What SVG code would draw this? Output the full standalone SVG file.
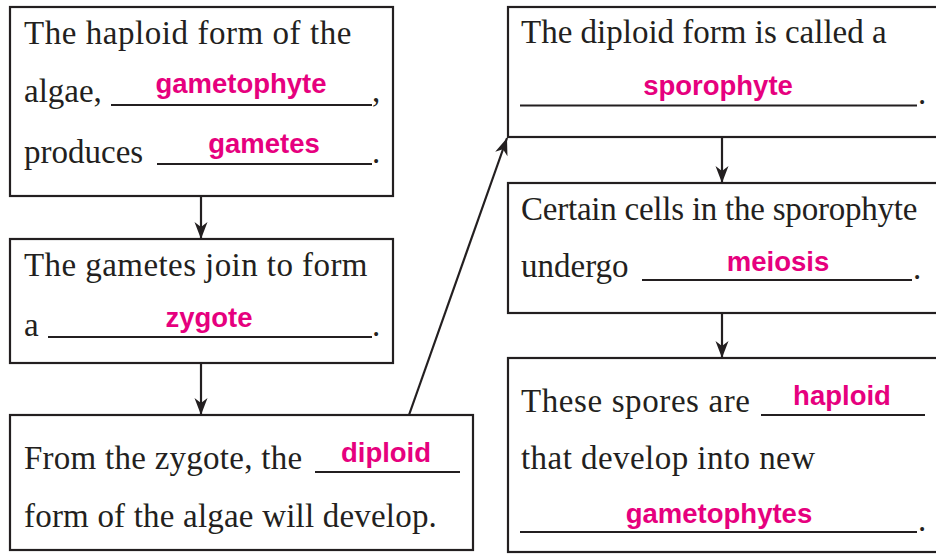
<svg xmlns="http://www.w3.org/2000/svg" width="936" height="554" viewBox="0 0 936 554">
<style>
.box{fill:#fff;stroke:#231f20;stroke-width:2.2}
.t{font-family:"Liberation Serif","Times New Roman",serif;font-size:33px;fill:#231f20}
.a{font-family:"Liberation Sans",Arial,sans-serif;font-weight:bold;font-size:27.5px;fill:#e6007e;text-anchor:middle}
.u{stroke:#231f20;stroke-width:2}
.c{stroke:#231f20;stroke-width:2.2;fill:none;marker-end:url(#ah)}
</style>
<defs>
<marker id="ah" viewBox="-18 -8 19 16" refX="0" refY="0" markerWidth="19" markerHeight="16" markerUnits="userSpaceOnUse" orient="auto">
<path d="M0,0 L-17,-6.5 L-12,0 L-17,6.5 Z" fill="#231f20"/>
</marker>
</defs>
<rect width="936" height="554" fill="#fff"/>
<g id="n1">
<rect class="box" x="10" y="7" width="383" height="189"/>
<text class="t" x="24" y="44" letter-spacing="0.55">The haploid form of the</text>
<text class="t" x="24" y="102">algae,</text>
<line class="u" x1="111" y1="105" x2="372" y2="105"/>
<text class="t" x="372" y="102">,</text>
<text class="a" x="241" y="93">gametophyte</text>
<text class="t" x="24" y="163">produces</text>
<line class="u" x1="157" y1="164" x2="372" y2="164"/>
<text class="t" x="372" y="163">.</text>
<text class="a" x="264" y="153">gametes</text>
</g>
<g id="n2">
<rect class="box" x="10" y="239" width="383" height="124"/>
<text class="t" x="24" y="276" letter-spacing="0.43">The gametes join to form</text>
<text class="t" x="24" y="336">a</text>
<line class="u" x1="48" y1="337" x2="372" y2="337"/>
<text class="t" x="372" y="336">.</text>
<text class="a" x="209" y="327">zygote</text>
</g>
<g id="n3">
<rect class="box" x="10" y="415" width="463" height="135"/>
<text class="t" x="24" y="469" letter-spacing="0.26">From the zygote, the</text>
<line class="u" x1="315" y1="472" x2="460" y2="472"/>
<text class="a" x="386" y="462">diploid</text>
<text class="t" x="24" y="527" letter-spacing="0.2">form of the algae will develop.</text>
</g>
<g id="n4">
<rect class="box" x="508" y="7" width="440" height="130"/>
<text class="t" x="521" y="43">The diploid form is called a</text>
<line class="u" x1="520" y1="105.5" x2="917" y2="105.5"/>
<text class="t" x="918" y="104">.</text>
<text class="a" x="718" y="95">sporophyte</text>
</g>
<g id="n5">
<rect class="box" x="508" y="183" width="440" height="130"/>
<text class="t" x="521" y="220" letter-spacing="-0.23">Certain cells in the sporophyte</text>
<text class="t" x="521" y="277">undergo</text>
<line class="u" x1="642" y1="280" x2="912" y2="280"/>
<text class="t" x="913" y="279">.</text>
<text class="a" x="778" y="271">meiosis</text>
</g>
<g id="n6">
<rect class="box" x="508" y="358" width="440" height="194"/>
<text class="t" x="521" y="412" letter-spacing="0.6">These spores are</text>
<line class="u" x1="761" y1="415" x2="925" y2="415"/>
<text class="a" x="842" y="405">haploid</text>
<text class="t" x="521" y="469" letter-spacing="0.45">that develop into new</text>
<line class="u" x1="520" y1="532" x2="917" y2="532"/>
<text class="t" x="918" y="531">.</text>
<text class="a" x="719" y="523">gametophytes</text>
</g>
<g id="connectors">
<line class="c" x1="201" y1="196" x2="201" y2="239"/>
<line class="c" x1="201" y1="363" x2="201" y2="415"/>
<line class="c" x1="409" y1="415" x2="507" y2="138"/>
<line class="c" x1="722" y1="137" x2="722" y2="183"/>
<line class="c" x1="722" y1="313" x2="722" y2="358"/>
</g>
</svg>
